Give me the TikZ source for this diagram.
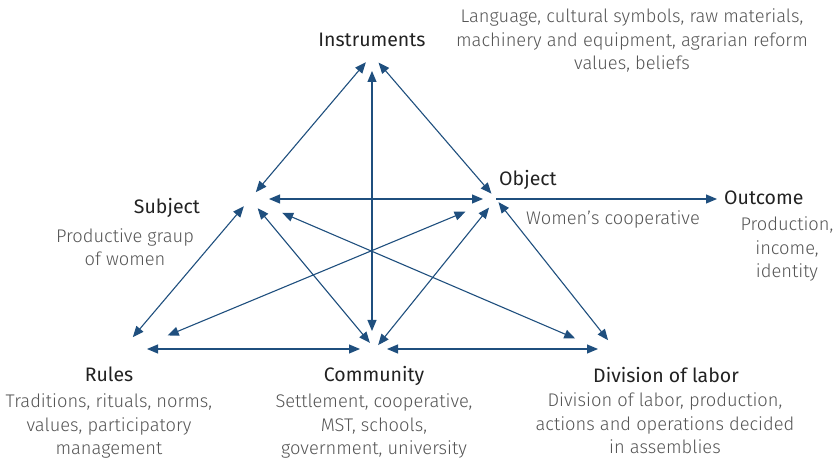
\documentclass[tikz,border=0pt]{standalone}
\usepackage{fontspec}
\setmainfont{Fira Sans}
\newfontfamily\lightfont{Fira Sans Light}
\usetikzlibrary{arrows.meta}
\definecolor{arr}{HTML}{1F4F7E}
\definecolor{ttl}{HTML}{222222}
\definecolor{dsc}{HTML}{555555}
\begin{document}
\begin{tikzpicture}[x=1pt,y=-1pt,
  title/.style={text=ttl,font=\fontsize{19.5}{23}\selectfont,inner sep=0pt,anchor=base},
  desc/.style={text=dsc,font=\lightfont\fontsize{18.3}{23.7}\selectfont,inner sep=0pt,align=center,anchor=base},
  tip/.tip={Triangle[length=11pt,width=9pt]},
  link/.style={draw=arr,line width=1.1pt,tip-tip},
  onelink/.style={draw=arr,line width=1.1pt,-tip}]
\useasboundingbox (0,0) rectangle (839,462);
% hubs
\coordinate (I) at (372,55);
\coordinate (S) at (250,199);
\coordinate (O) at (496,199);
\coordinate (R) at (116,357);
\coordinate (C) at (375,349);
\coordinate (D) at (623,359);
% labels (desc nodes anchored at the baseline of their last line)
\node[title] (tI) at (372,47) {Instruments};
\node[desc] (dI) at (632,70) {Language, cultural symbols, raw materials,\\machinery and equipment, agrarian reform\\values, beliefs};
\node[title] (tS) at (167,214) {Subject};
\node[desc] (dS) at (125,266) {Productive graup\\of women};
\node[title] (tO) at (528,186) {Object};
\node[desc] (dO) at (613,225) {Women’s cooperative};
\node[title,anchor=base west] (tOut) at (724,205) {Outcome};
\node[desc] (dOut) at (787,278) {Production,\\income,\\identity};
\node[title] (tR) at (109,382) {Rules};
\node[desc] (dR) at (109,455) {Traditions, rituals, norms,\\values, participatory\\management};
\node[title] (tC) at (374,382) {Community};
\node[desc] (dC) at (374,455) {Settlement, cooperative,\\MST, schools,\\government, university};
\node[title] (tD) at (666,383) {Division of labor};
\node[desc] (dD) at (665,454) {Division of labor, production,\\actions and operations decided\\in assemblies};
% connectors
\draw[link, shorten <=9pt, shorten >=9.5pt] (S) -- (I);
\draw[link, shorten <=7pt, shorten >=10pt] (O) -- (I);
\draw[link, shorten <=16pt, shorten >=18pt] (I) -- (I |- C);
\draw[link, shorten <=19pt, shorten >=13pt] (S) -- (O);
\draw[link, shorten <=9.5pt, shorten >=26pt] (S) -- (R);
\draw[link, shorten <=33pt, shorten >=56pt] (O) -- (R);
\draw[link, shorten <=12pt, shorten >=8pt] (S) -- (C);
\draw[link, shorten <=11pt, shorten >=5pt] (O) -- (C);
\draw[link, shorten <=35pt, shorten >=52pt] (S) -- (D);
\draw[link, shorten <=4pt, shorten >=24pt] (O) -- (D);
\draw[link, shorten <=31pt, shorten >=15pt] (C -| R) -- (C);
\draw[link, shorten <=12pt, shorten >=25pt] (C) -- (C -| D);
\draw[onelink, shorten >=7pt] (O) -- (tOut.west |- O);
\end{tikzpicture}
\end{document}
